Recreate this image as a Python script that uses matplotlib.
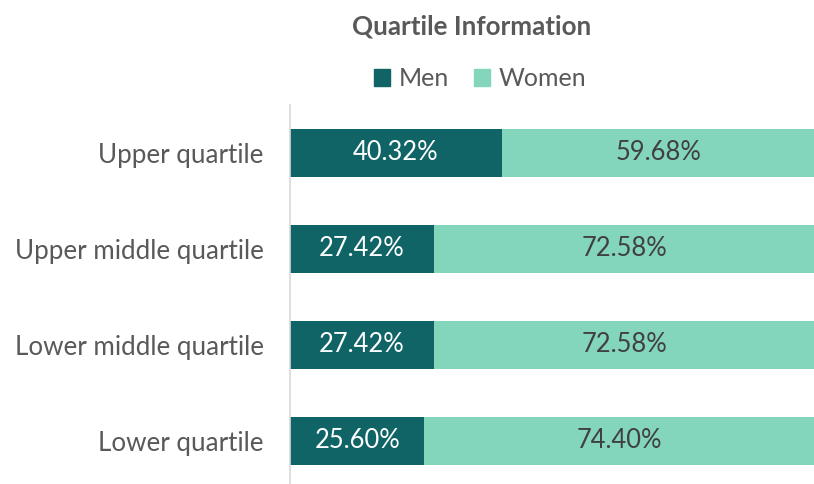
import matplotlib
matplotlib.use("Agg")
import matplotlib.pyplot as plt
from matplotlib.patches import Patch

categories = ["Upper quartile", "Upper middle quartile", "Lower middle quartile", "Lower quartile"]
men = [40.32, 27.42, 27.42, 25.60]
women = [59.68, 72.58, 72.58, 74.40]
series_names = ["Men", "Women"]

plt.rcParams['font.family'] = ['Lato', 'DejaVu Sans']

men_color = "#106466"
women_color = "#83D5BB"
text_gray = "#595959"

fig = plt.figure(figsize=(8.14, 4.84), dpi=100)
W, H = 814, 484
ax = fig.add_axes([290 / W, -5 / H, 525 / W, 384 / H])

y = list(range(len(categories)))
ax.barh(y, men, height=0.51, color=men_color, label=series_names[0])
ax.barh(y, women, left=men, height=0.51, color=women_color, label=series_names[1])

for i in y:
    ax.text(men[i] / 2, i, f"{men[i]:.2f}%", ha="center", va="center",
            color="white", fontsize=18.4)
    ax.text(men[i] + women[i] / 2, i, f"{women[i]:.2f}%", ha="center", va="center",
            color="#404040", fontsize=18.4)

ax.set_xlim(0, 100)
ax.set_ylim(3.5, -0.5)
ax.set_yticks(y)
ax.set_yticklabels(categories, fontsize=18.7, color=text_gray)
ax.tick_params(axis="y", length=0, pad=19)
ax.set_xticks([])
for s in ["top", "right", "bottom"]:
    ax.spines[s].set_visible(False)
ax.spines["left"].set_color("#D9D9D9")
ax.spines["left"].set_linewidth(1.2)

fig.text(472 / W, 1 - 26 / H, "Quartile Information", ha="center", va="center",
         fontsize=18.7, fontweight="bold", color=text_gray)

handles = [Patch(color=men_color), Patch(color=women_color)]
fig.legend(handles, series_names, loc="center", bbox_to_anchor=(480 / W, 1 - 79 / H),
           ncol=2, frameon=False, fontsize=18, labelcolor=text_gray,
           handlelength=0.65, handleheight=0.65, handletextpad=0.35, columnspacing=1.0)

fig.savefig("out.png", dpi=100)
